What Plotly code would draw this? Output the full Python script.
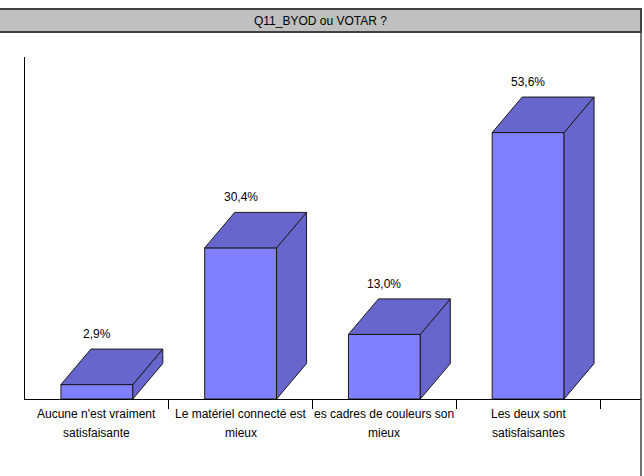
import plotly.graph_objects as go

# ---- data ----
title_text = "Q11_BYOD ou VOTAR ?"
categories = [
    "Aucune n'est vraiment<br>satisfaisante",
    "Le matériel connecté est<br>mieux",
    "es cadres de couleurs son<br>mieux",
    "Les deux sont<br>satisfaisantes",
]
values = [2.9, 30.4, 13.0, 53.6]
value_labels = ["2,9%", "30,4%", "13,0%", "53,6%"]

# ---- style / geometry ----
FRONT = "#8080FF"
SIDE = "#6666CC"
EDGE = "#1a1a1a"
FONT = "Arial, Liberation Sans, sans-serif"
W, H = 644, 476
L, R, T, B = 25, 3, 57, 77
PW, PH = W - L - R, H - T - B
PX_PER_CAT = 143.75
XMAX = PW / PX_PER_CAT
YMAX = 68.8
PX_PER_PCT = PH / YMAX
BAR_W = 0.5
DX = 30 / PX_PER_CAT
DY = 35.5 / PX_PER_PCT

def px_x(px):
    return (px - L) / PW

def px_y(py):
    return (H - B - py) / PH

centers = [i + 0.5 for i in range(len(values))]

fig = go.Figure()

# front faces
fig.add_trace(go.Bar(
    x=centers, y=values, width=BAR_W,
    marker=dict(color=FRONT, line=dict(color=EDGE, width=1)),
    hoverinfo="skip", showlegend=False,
))

# top and side faces
for c, v in zip(centers, values):
    x0, x1 = c - BAR_W / 2, c + BAR_W / 2
    fig.add_trace(go.Scatter(
        x=[x1, x1 + DX, x1 + DX, x1, x1],
        y=[0, DY, v + DY, v, 0],
        fill="toself", fillcolor=SIDE, mode="lines",
        line=dict(color=EDGE, width=1),
        hoverinfo="skip", showlegend=False,
    ))
    fig.add_trace(go.Scatter(
        x=[x0, x0 + DX, x1 + DX, x1, x0],
        y=[v, v + DY, v + DY, v, v],
        fill="toself", fillcolor=SIDE, mode="lines",
        line=dict(color=EDGE, width=1),
        hoverinfo="skip", showlegend=False,
    ))

annotations = []
# value labels
for c, v, t in zip(centers, values, value_labels):
    annotations.append(dict(
        x=c, y=v + DY, xref="x", yref="y", text=t, showarrow=False,
        yanchor="middle", yshift=15,
        font=dict(family=FONT, size=12, color="#000000"),
    ))
# category labels (two lines each)
for c, lab in zip(centers, categories):
    for k, line in enumerate(lab.split("<br>")):
        annotations.append(dict(
            x=c, y=0, xref="x", yref="y", text=line, showarrow=False,
            yanchor="middle", yshift=-(15 + 19 * k),
            font=dict(family=FONT, size=12, color="#000000"),
        ))
# title
annotations.append(dict(
    x=px_x(320), y=px_y(20.5), xref="paper", yref="paper", text=title_text,
    showarrow=False, xanchor="center", yanchor="middle",
    font=dict(family=FONT, size=12, color="#000000"),
))

shapes = [
    dict(type="rect", xref="paper", yref="paper",
         x0=px_x(-2), x1=px_x(641), y0=px_y(32), y1=px_y(9),
         fillcolor="#C0C0C0", line=dict(color="#404040", width=2), layer="below"),
    dict(type="line", xref="paper", yref="paper",
         x0=px_x(641), x1=px_x(641), y0=px_y(32), y1=px_y(480),
         line=dict(color="#404040", width=1.5)),
]

fig.update_layout(
    width=W, height=H,
    margin=dict(l=L, r=R, t=T, b=B, pad=0),
    paper_bgcolor="white", plot_bgcolor="white",
    showlegend=False,
    annotations=annotations,
    shapes=shapes,
    xaxis=dict(
        range=[0, XMAX], showgrid=False, zeroline=False,
        showline=True, linecolor="#000000", linewidth=1,
        tickmode="array", tickvals=centers, ticktext=[""] * len(centers),
        ticks="",
        minor=dict(tickmode="array", tickvals=[1, 2, 3, 4], ticks="outside",
                   ticklen=9, tickcolor="#000000", tickwidth=1, showgrid=False),
        fixedrange=True,
    ),
    yaxis=dict(
        range=[0, YMAX], showgrid=False, zeroline=False,
        showline=True, linecolor="#000000", linewidth=1,
        showticklabels=False, ticks="", fixedrange=True,
    ),
)

fig.write_html(
    "out.html",
    config={"displayModeBar": False},
    post_script="document.body.style.margin='0';document.body.style.overflow='hidden';",
)
